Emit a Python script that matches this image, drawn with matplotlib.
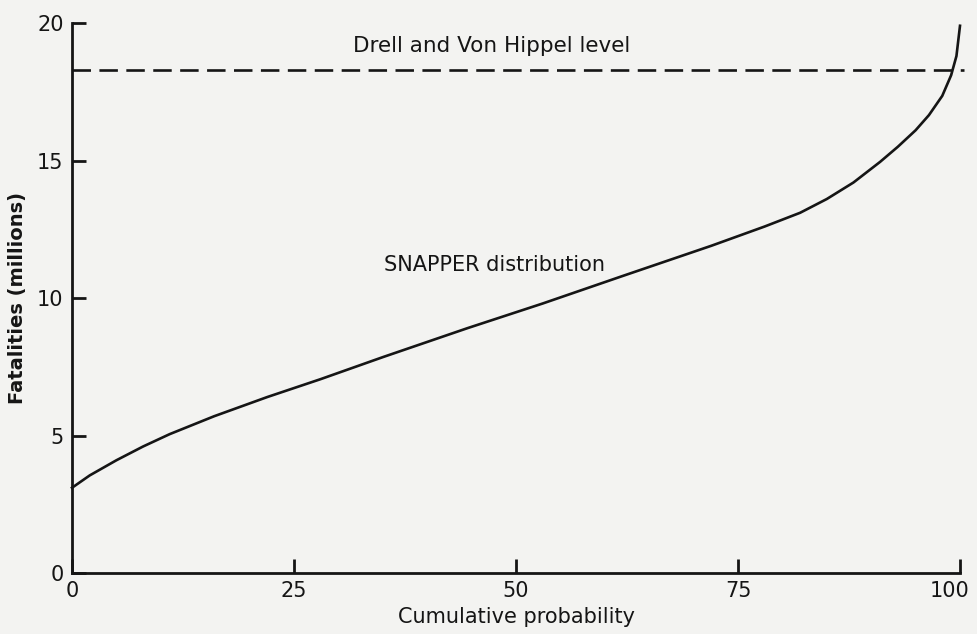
import matplotlib
matplotlib.use("Agg")
import matplotlib.pyplot as plt
from matplotlib.transforms import ScaledTranslation

# SNAPPER distribution
cum_prob = [0, 2, 5, 8, 11, 16, 22, 28, 35, 44.5, 53, 62, 72, 78, 82, 85, 88, 91, 93, 95, 96.5, 98, 99, 99.6, 100]
fatalities = [3.1, 3.55, 4.1, 4.6, 5.05, 5.7, 6.4, 7.05, 7.85, 8.9, 9.8, 10.8, 11.9, 12.6, 13.1, 13.6, 14.2, 14.95, 15.5, 16.1, 16.65, 17.35, 18.1, 18.8, 19.9]
drell_level = 18.3

x_ticks = [0, 25, 50, 75, 100]
y_ticks = [0, 5, 10, 15, 20]

paper = "#f3f3f1"
ink = "#151515"

fig = plt.figure(figsize=(9.77, 6.34), dpi=100, facecolor=paper)
ax = fig.add_axes([0.0737, 0.0962, 0.9089, 0.8675], facecolor=paper)

ax.plot(cum_prob, fatalities, color=ink, lw=1.9, clip_on=False,
        solid_joinstyle="round")
ax.plot([0, 100.5], [drell_level, drell_level], color=ink, lw=1.9,
        dashes=(7, 3.2), clip_on=False)

ax.text(47.3, 18.8, "Drell and Von Hippel level", ha="center", va="bottom",
        fontsize=15.5, color=ink)
ax.text(47.6, 11.2, "SNAPPER distribution", ha="center", va="center",
        fontsize=15, color=ink)

ax.set_xlim(0, 100)
ax.set_ylim(0, 20)
ax.set_xticks(x_ticks)
ax.set_yticks(y_ticks)

for s in ["top", "right"]:
    ax.spines[s].set_visible(False)
for s in ["left", "bottom"]:
    ax.spines[s].set_linewidth(2)
    ax.spines[s].set_color(ink)

ax.tick_params(axis="both", direction="in", length=10, width=2, color=ink,
               labelsize=15, labelcolor=ink)
ax.tick_params(axis="y", pad=6)
ax.tick_params(axis="x", pad=6)

# "100" sits a little to the left of its tick, as in the scan
for t in ax.xaxis.get_major_ticks()[-1:]:
    t.label1.set_transform(t.label1.get_transform() +
                           ScaledTranslation(-0.1, 0, fig.dpi_scale_trans))

ax.set_xlabel("Cumulative probability", fontsize=15, color=ink, labelpad=4)
ax.set_ylabel("Fatalities (millions)", fontsize=14, color=ink, labelpad=7,
              fontweight="bold")

fig.savefig("out.png", dpi=100, facecolor=paper)
